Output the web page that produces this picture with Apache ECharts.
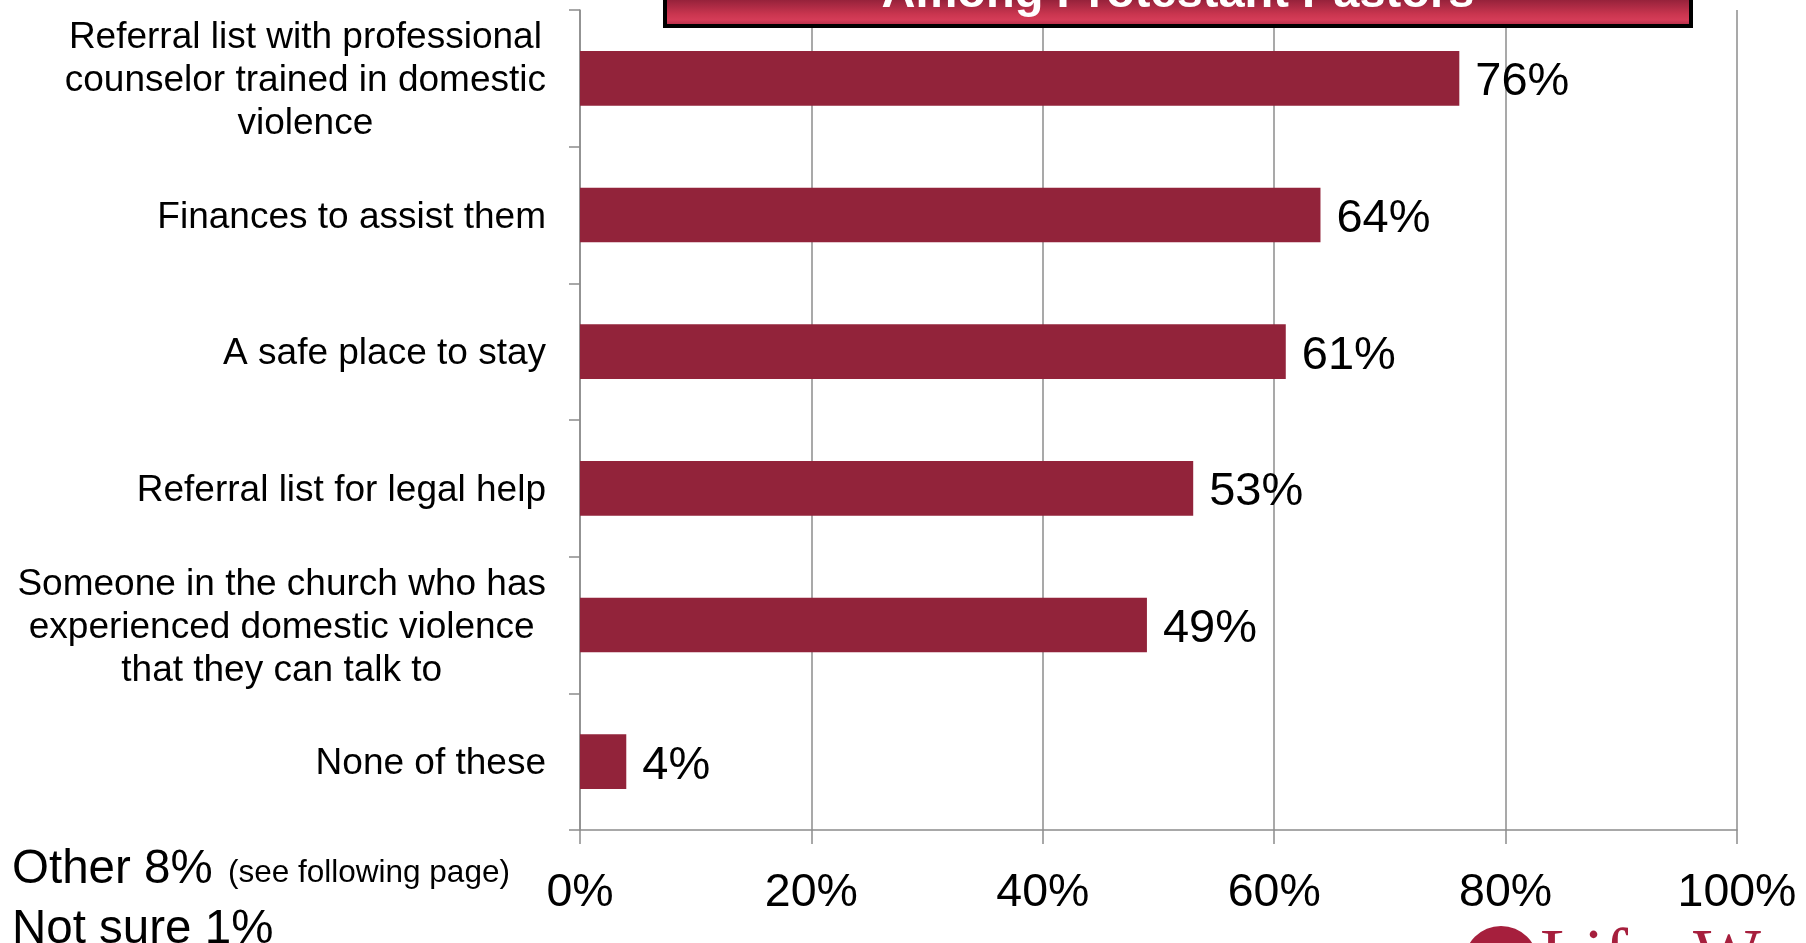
<!DOCTYPE html>
<html>
<head>
<meta charset="utf-8">
<script src="https://cdn.jsdelivr.net/npm/echarts@6/dist/echarts.min.js"></script>
<style>
html,body{margin:0;padding:0;background:#fff;}
#chart{width:1806px;height:943px;}
</style>
</head>
<body>
<div id="chart"></div>
<script>
const categories = [
  'Referral list with professional\ncounselor trained in domestic\nviolence',
  'Finances to assist them',
  'A safe place to stay',
  'Referral list for legal help',
  'Someone in the church who has\nexperienced domestic violence\nthat they can talk to',
  'None of these'
];
const values = [76, 64, 61, 53, 49, 4];
const xTicks = [0, 20, 40, 60, 80, 100];
const titleText = 'Among Protestant Pastors';
const footLines = ['Other 8%', '(see following page)', 'Not sure 1%'];
const logoParts = ['Life', 'Way'];

const FONT = '"Liberation Sans", Arial, sans-serif';
const SERIF = '"Liberation Serif", "DejaVu Serif", serif';
const BAR = '#92233A';
const GRIDC = '#8c8c8c';
const LOGO = '#a61f3d';

const chart = echarts.init(document.getElementById('chart'), null, {renderer: 'canvas'});
chart.setOption({
  animation: false,
  backgroundColor: '#ffffff',
  grid: {left: 580, right: 69, top: 10, bottom: 113, containLabel: false},
  xAxis: {
    type: 'value',
    min: xTicks[0],
    max: xTicks[xTicks.length - 1],
    interval: 20,
    axisLine: {show: true, lineStyle: {color: GRIDC, width: 1.5}},
    axisTick: {show: true, length: 14, lineStyle: {color: GRIDC, width: 1.5}},
    splitLine: {show: true, lineStyle: {color: GRIDC, width: 1.5}},
    axisLabel: {
      margin: 40,
      fontSize: 46.5,
      fontFamily: FONT,
      color: '#000',
      formatter: v => v + '%'
    }
  },
  yAxis: {
    type: 'category',
    data: categories,
    inverse: true,
    axisLine: {show: true, lineStyle: {color: GRIDC, width: 1.5}},
    axisTick: {show: true, length: 11, lineStyle: {color: GRIDC, width: 1.5}},
    splitLine: {show: false},
    axisLabel: {
      interval: 0,
      margin: 34,
      color: '#000',
      fontSize: 37,
      fontFamily: FONT,
      padding: [5, 0, 0, 0],
      formatter: v => v.split('\n').map(l => '{c|' + l + '}').join('\n'),
      rich: {
        c: {align: 'center', fontSize: 37, lineHeight: 43, fontFamily: FONT, color: '#000'}
      }
    }
  },
  series: [{
    type: 'bar',
    data: values,
    barCategoryGap: '60%',
    itemStyle: {color: BAR},
    label: {
      show: true,
      position: 'right',
      distance: 16,
      offset: [0, 4],
      formatter: p => p.value + '%',
      fontSize: 47,
      fontFamily: FONT,
      color: '#000'
    }
  }],
  graphic: [
    {
      type: 'rect',
      shape: {x: 665, y: -70, width: 1026, height: 96},
      style: {
        fill: new echarts.graphic.LinearGradient(0, 0, 0, 1, [
          {offset: 0, color: '#8a1d34'},
          {offset: 0.72, color: '#96223b'},
          {offset: 0.86, color: '#c9354f'},
          {offset: 0.92, color: '#d53c58'},
          {offset: 1, color: '#a0263f'}
        ]),
        stroke: '#000',
        lineWidth: 4
      },
      z: 10
    },
    {
      type: 'text',
      x: 1178, y: -6,
      style: {
        text: titleText,
        fill: '#fff',
        font: 'bold 47px ' + FONT,
        align: 'center',
        verticalAlign: 'middle'
      },
      z: 11
    },
    {
      type: 'text', x: 12, y: 870,
      style: {text: footLines[0], fill: '#000', font: '47.5px ' + FONT, align: 'left', verticalAlign: 'middle'}
    },
    {
      type: 'text', x: 228, y: 873,
      style: {text: footLines[1], fill: '#000', font: '31.5px ' + FONT, align: 'left', verticalAlign: 'middle'}
    },
    {
      type: 'text', x: 12, y: 930,
      style: {text: footLines[2], fill: '#000', font: '47.5px ' + FONT, align: 'left', verticalAlign: 'middle'}
    },
    {
      type: 'circle',
      shape: {cx: 1501, cy: 963, r: 37},
      style: {fill: LOGO}
    },
    {
      type: 'arc',
      shape: {cx: 1522, cy: 977, r: 30, startAngle: Math.PI * 1.05, endAngle: Math.PI * 1.6},
      style: {stroke: '#fff', lineWidth: 4, fill: null}
    },
    {
      type: 'text', x: 1540, y: 995,
      style: {text: logoParts[0], fill: LOGO, font: '72px ' + SERIF, align: 'left', verticalAlign: 'bottom'}
    },
    {
      type: 'text', x: 1693, y: 995,
      style: {text: logoParts[1], fill: LOGO, font: '72px ' + SERIF, align: 'left', verticalAlign: 'bottom'}
    }
  ]
});
</script>
</body>
</html>
